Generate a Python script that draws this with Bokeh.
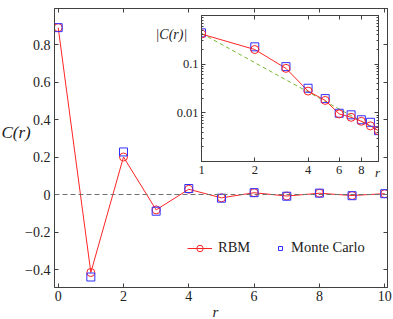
import numpy as np
from bokeh.plotting import figure
from bokeh.models import (LinearAxis, LogAxis, FixedTicker, Span, Legend,
                          LegendItem, Range1d, ColumnDataSource)
from bokeh.core.properties import value
from bokeh.embed import file_html
from bokeh.resources import INLINE

# ---------------- data ----------------
r = [0, 1, 2, 3, 4, 5, 6, 7, 8, 9, 10]
c_rbm = [0.89, -0.416, 0.200, -0.082, 0.028, -0.018, 0.0095, -0.0081, 0.0067, -0.0054, 0.0043]
c_mc = [0.89, -0.440, 0.227, -0.089, 0.032, -0.0196, 0.0098, -0.0091, 0.0072, -0.0064, 0.0043]
fit_r = [1, 10]
fit_c = [0.43, 0.0043]

main_xticks = [0, 2, 4, 6, 8, 10]
main_yticks = [-0.4, -0.2, 0, 0.2, 0.4, 0.6, 0.8]
main_ylabels = ["\u22120.4", "\u22120.2", "0", "0.2", "0.4", "0.6", "0.8"]
inset_xticks = [1, 2, 4, 6, 8]
inset_xlabels = ["1", "2", "4", "6", "8"]
inset_yticks = [0.001, 0.01, 0.1, 1]
inset_ylabels = ["", "0.01", "0.1", ""]

RED = "#ff2424"
BLUE = "#2f2fff"
GREEN = "#78b832"
AX = "#404040"
TXT = "#222222"
FONT = "Liberation Serif"
W, H = 393, 319

def style_axis(ax, ticks, labels=None, size="14px", show=True, minor=None, standoff=4):
    ax.ticker = FixedTicker(ticks=ticks, minor_ticks=minor or [])
    ax.major_tick_in = 4
    ax.major_tick_out = 0
    ax.minor_tick_in = 2
    ax.minor_tick_out = 0
    ax.axis_line_color = AX
    ax.major_tick_line_color = AX
    ax.minor_tick_line_color = AX if minor else None
    ax.major_label_text_font = FONT
    ax.major_label_text_color = TXT
    if labels is not None:
        ax.major_label_overrides = {t: l for t, l in zip(ticks, labels)}
    if show:
        ax.major_label_text_font_size = size
        ax.major_label_standoff = standoff
    else:
        ax.major_label_text_font_size = "1px"
        ax.major_label_text_color = None
        ax.major_label_standoff = 0

# ---------------- main plot ----------------
main = figure(width=W, height=H, x_range=Range1d(-0.113, 10.085), y_range=Range1d(-0.496, 0.992),
              output_backend="svg", toolbar_location=None,
              min_border_left=54, min_border_right=6, min_border_top=8, min_border_bottom=32)
main.xgrid.visible = False
main.ygrid.visible = False
main.outline_line_color = AX
main.outline_line_width = 1
main.background_fill_color = "white"
main.border_fill_color = "white"

style_axis(main.xaxis[0], main_xticks, [str(t) for t in main_xticks], standoff=3)
style_axis(main.yaxis[0], main_yticks, main_ylabels, standoff=4)

top_ax = LinearAxis()
style_axis(top_ax, main_xticks, show=False)
main.add_layout(top_ax, "above")
right_ax = LinearAxis()
style_axis(right_ax, main_yticks, show=False)
main.add_layout(right_ax, "right")

main.add_layout(Span(location=0, dimension="width", line_color="#707070",
                     line_dash="5 3", line_width=1))

src = ColumnDataSource(dict(r=r, rbm=c_rbm, mc=c_mc))
l_rbm = main.line("r", "rbm", source=src, line_color=RED, line_width=1)
c_r = main.scatter("r", "rbm", source=src, marker="circle", size=8,
                   line_color=RED, fill_color=None, line_width=1)
s_mc = main.scatter("r", "mc", source=src, marker="square", size=8,
                    line_color=BLUE, fill_color=None, line_width=1)

leg_kw = dict(orientation="horizontal", glyph_height=16, label_standoff=6,
              padding=0, margin=0, border_line_alpha=0, background_fill_alpha=0,
              label_text_font=FONT, label_text_font_size="14.5px", label_text_color=TXT)
main.add_layout(Legend(items=[LegendItem(label="RBM", renderers=[l_rbm, c_r])],
                       location=(133, 31), glyph_width=25, **leg_kw))
main.add_layout(Legend(items=[LegendItem(label="Monte Carlo", renderers=[s_mc])],
                       location=(221, 31), glyph_width=10, **leg_kw))

# ---------------- inset ----------------
inset = figure(width=233, height=168, x_axis_type="log", y_axis_type="log",
               x_range=Range1d(1, 10), y_range=Range1d(0.001, 1.0),
               output_backend="svg", toolbar_location=None,
               min_border_left=51, min_border_right=5, min_border_top=2, min_border_bottom=20,
               styles={"position": "absolute", "left": "150px", "top": "13px"})
inset.xgrid.visible = False
inset.ygrid.visible = False
inset.outline_line_color = AX
inset.background_fill_color = "white"
inset.border_fill_alpha = 0

y_minor = [m * d for d in (0.001, 0.01, 0.1) for m in range(2, 10)]
style_axis(inset.xaxis[0], inset_xticks, inset_xlabels, size="12.5px", standoff=4)
style_axis(inset.yaxis[0], inset_yticks, inset_ylabels, size="12.5px", standoff=3, minor=y_minor)
in_top = LogAxis()
style_axis(in_top, inset_xticks, show=False)
inset.add_layout(in_top, "above")
in_right = LogAxis()
style_axis(in_right, inset_yticks, show=False, minor=y_minor)
inset.add_layout(in_right, "right")

isrc = ColumnDataSource(dict(r=r[1:], rbm=np.abs(c_rbm[1:]), mc=np.abs(c_mc[1:])))
inset.line(fit_r, fit_c, line_color=GREEN, line_dash="4 3", line_width=1)
inset.line("r", "rbm", source=isrc, line_color=RED, line_width=1)
inset.scatter("r", "mc", source=isrc, marker="square", size=8,
              line_color=BLUE, fill_color=None, line_width=1)
inset.scatter("r", "rbm", source=isrc, marker="circle", size=8,
              line_color=RED, fill_color=None, line_width=1)

# ---------------- text overlay (axis titles) ----------------
ov = figure(width=W, height=H, x_range=Range1d(0, W), y_range=Range1d(H, 0),
            output_backend="svg", toolbar_location=None, min_border=0,
            x_axis_location=None, y_axis_location=None,
            styles={"position": "absolute", "left": "0px", "top": "0px"})
ov.xgrid.visible = False
ov.ygrid.visible = False
ov.outline_line_color = None
ov.background_fill_alpha = 0
ov.border_fill_alpha = 0

def title_text(x, y, t, size, align="left"):
    ov.text(x=[x], y=[y], text=[t], text_font=value(FONT), text_font_style="italic",
            text_font_size=size, text_color=TXT, text_align=align, text_baseline="middle")

title_text(1, 132, "C(r)", "17px")
title_text(215, 311, "r", "15px", "center")
title_text(155, 34, "|C(r)|", "14px")
title_text(377, 172, "r", "13px", "center")

open("out.html", "w").write(file_html([main, inset, ov], INLINE))
